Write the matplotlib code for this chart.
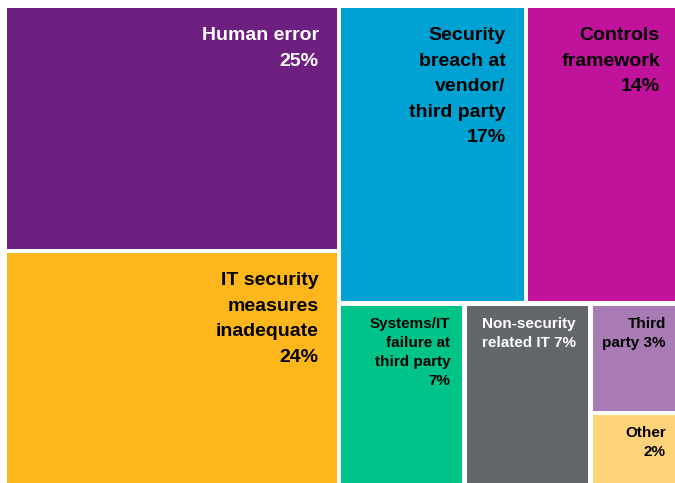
import matplotlib
matplotlib.use("Agg")
import matplotlib.pyplot as plt
from matplotlib.patches import Rectangle

# Share of incidents by root cause (percent)
categories = [
    "Human error",
    "IT security\nmeasures\ninadequate",
    "Security\nbreach at\nvendor/\nthird party",
    "Controls\nframework",
    "Systems/IT\nfailure at\nthird party",
    "Non-security\nrelated IT",
    "Third\nparty",
    "Other",
]
values = [25, 24, 17, 14, 7, 7, 3, 2]
pct_joiner = ["\n", "\n", "\n", "\n", "\n", " ", " ", "\n"]

colors = ["#6e2080", "#fdb71c", "#00a2d3", "#c1129b",
          "#00c389", "#63666a", "#a87bb4", "#ffd37a"]
text_colors = ["white", "black", "black", "black",
               "black", "white", "black", "black"]


def worst(row, side):
    s = sum(row)
    return max(max(side * side * r / (s * s), s * s / (side * side * r)) for r in row)


def squarify(sizes, x, y, w, h):
    total = sum(sizes)
    sizes = [v * w * h / total for v in sizes]
    rects = []
    while sizes:
        side = min(w, h)
        row = [sizes[0]]
        i = 1
        while i < len(sizes) and worst(row + [sizes[i]], side) <= worst(row, side):
            row.append(sizes[i])
            i += 1
        s = sum(row)
        if w >= h:
            cw = s / h
            yy = y
            for r in row:
                rh = r / cw
                rects.append((x, yy, cw, rh))
                yy += rh
            x += cw
            w -= cw
        else:
            rh = s / w
            xx = x
            for r in row:
                rw = r / rh
                rects.append((xx, y, rw, rh))
                xx += rw
            y += rh
            h -= rh
        sizes = sizes[i:]
    return rects


W_PX, H_PX = 675, 483
fig = plt.figure(figsize=(W_PX / 100, H_PX / 100), dpi=100)
ax = fig.add_axes([0, 0, 1, 1])
ax.set_xlim(0, W_PX)
ax.set_ylim(H_PX, 0)
ax.axis("off")

rects = squarify(values, 5, 6, 675, 480)
gap = 2.25
font = "Liberation Sans"

for k, (x, y, w, h) in enumerate(rects):
    ax.add_patch(Rectangle((x + gap, y + gap), w - 2 * gap, h - 2 * gap,
                           facecolor=colors[k], edgecolor="none"))
    big = k < 4
    size = 14 if big else 11
    first = 32 if big else 22
    step = 25.5 if big else 19
    pad = 18 if big else 12
    text = categories[k] + pct_joiner[k] + f"{values[k]}%"
    for i, line in enumerate(text.split("\n")):
        ax.text(x + w - gap - pad, y + gap + first + i * step, line,
                ha="right", va="baseline", fontsize=size, fontweight="bold",
                family=font, color=text_colors[k])

fig.savefig("out.png", dpi=100)
